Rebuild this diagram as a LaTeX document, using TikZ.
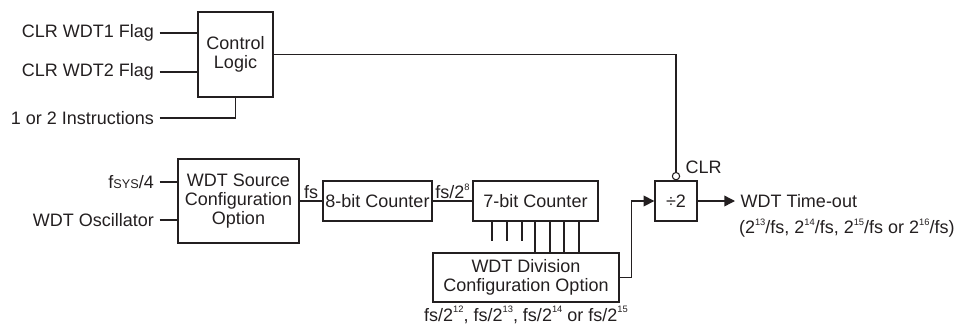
\documentclass[tikz,border=0pt]{standalone}
\usepackage{fontspec}
\setsansfont{Liberation Sans}
\usetikzlibrary{shapes, arrows.meta, positioning}
\definecolor{MyDark}{HTML}{231F20}
\tikzset{every picture/.style={/utils/exec={\sffamily}}}
\newcommand{\supnum}[1]{\raisebox{0.9ex}{\fontsize{7}{7}\selectfont #1}}

\begin{document}
\begin{tikzpicture} [
			x=0.75pt, y=-0.75pt, line width=1pt, draw=MyDark,
			every node/.style={font=\fontsize{13.5}{14.3}\selectfont,align=center,text=MyDark},
			block/.style={draw=MyDark,rectangle,inner sep=1pt},
			legend/.style={draw=none,fill=none,inner xsep=3.75pt,inner ysep=2pt},
			bubble/.style={draw=MyDark,circle,minimum size=5.5pt,inner sep=0pt,line width=0.8pt},
			tip/.style={-{Triangle[length=8pt,width=8pt]}}
		]
			\useasboundingbox (0,0) rectangle (959,325);
			\node at (235.5,54.5) [block,minimum width=56.25pt,minimum height=63.75pt] (nodeControl) {Control\\Logic};
			\node at (159.5,33) [legend,anchor=east] (legFlagA) {CLR WDT1 Flag};
			\node at (159.5,72) [legend,anchor=east] (legFlagB) {CLR WDT2 Flag};
			\node at (159.5,118) [legend,anchor=east] (legInstr) {1 or 2 Instructions};
			\node at (238.5,201) [block,minimum width=90.75pt,minimum height=63pt] (nodeSource) {WDT Source\\Configuration\\Option};
			\node at (159.5,182) [legend,anchor=east] (legSys) {f{\fontsize{9.5}{10}\selectfont SYS}/4};
			\node at (159.5,220) [legend,anchor=east] (legOsc) {WDT Oscillator};
			\node at (377.5,201) [block,minimum width=81.75pt,minimum height=30pt] (nodeEight) {8-bit Counter};
			\node at (535.5,201) [block,minimum width=93.75pt,minimum height=30pt] (nodeSeven) {7-bit Counter};
			\node at (526,277.5) [block,minimum width=139.5pt,minimum height=36.75pt] (nodeDivCfg) {WDT Division\\Configuration Option};
			\node [legend,below=0pt of nodeDivCfg] (legDivCfg) {fs/2\supnum{12}, fs/2\supnum{13}, fs/2\supnum{14} or fs/2\supnum{15}};
			\node at (676,201) [block,minimum width=31.5pt,minimum height=30pt] (nodeHalf) {÷2};
			\node at (nodeHalf.north) [bubble,anchor=south] (nodeClr) {};
			\node at (680,167) [legend,anchor=west] (legClr) {CLR};
			\node at (735,201) [legend,anchor=west] (legTimeout) {WDT Time-out};
			\node at (735,228) [legend,anchor=west,inner xsep=2.5pt] (legPeriod) {(2\supnum{13}/fs, 2\supnum{14}/fs, 2\supnum{15}/fs or 2\supnum{16}/fs)};
			\path (legFlagA) edge (nodeControl.west|-legFlagA);
			\path (legFlagB) edge (nodeControl.west|-legFlagB);
			\draw (legInstr) -| (nodeControl.south);
			\path (legSys) edge (nodeSource.west|-legSys);
			\path (legOsc) edge (nodeSource.west|-legOsc);
			\path (nodeSource) edge node [legend,above,inner sep=1pt] {fs} (nodeEight);
			\path (nodeEight) edge node [legend,above,inner sep=1pt] {fs/2\supnum{8}} (nodeSeven);
			\foreach \d in {-43.5,-28.5,-13.5}
				\draw ([xshift=\d*0.75pt]nodeSeven.south) -- ++(0,19);
			\foreach \d in {-0.5,14.5,28.5,43.5}
				\draw ([xshift=\d*0.75pt]nodeSeven.south) coordinate (tap) -- (tap|-nodeDivCfg.north);
			\draw [tip] (nodeDivCfg.east) -- ++(12,0) |- (nodeHalf.west);
			\draw (nodeControl.east) -| (nodeClr.north);
			\path [tip] (nodeHalf) edge (legTimeout);
		\end{tikzpicture}
\end{document}
